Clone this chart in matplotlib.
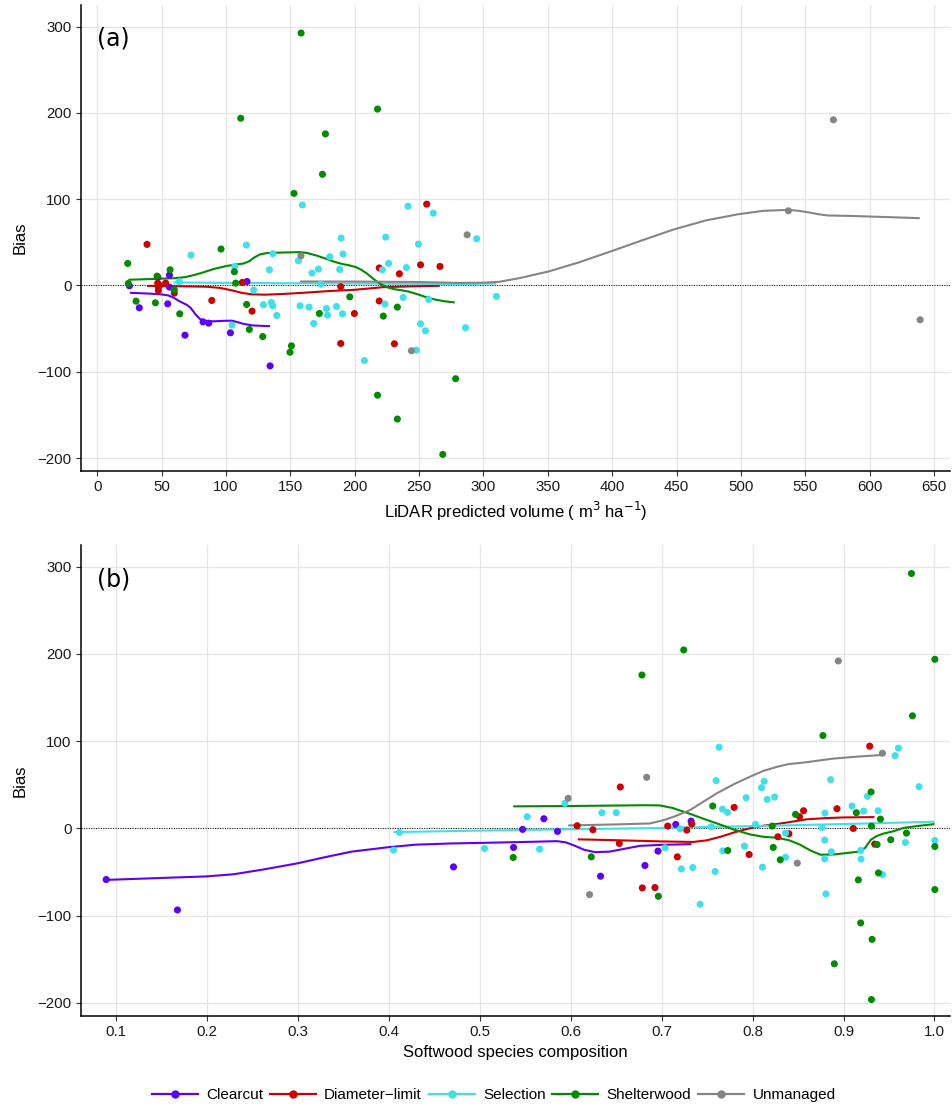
"""
bias_panels.py — stand-level bias of LiDAR volume by treatment

Two stacked panels: bias vs LiDAR predicted volume (a) and bias vs softwood
species composition (b). Points are individual stands, lines are the smoothed
trend per treatment.
"""

import matplotlib
matplotlib.use("Agg")
import matplotlib.pyplot as plt
from matplotlib.lines import Line2D


# ─── DATA ─────────────────────────────────────────────────────────────────────

GROUPS = ["Clearcut", "Diameter\u2212limit", "Selection", "Shelterwood", "Unmanaged"]
COLORS = ["#5D00F5", "#CC0000", "#3EE0EC", "#008B00", "#858585"]

# (a) volume (m3/ha), bias
VOL_CLEARCUT = [(24.9, -0.4), (32.6, -25.9), (46.9, 9.7), (56.0, 12.0), (56.0, -1.9),
                (54.7, -21.3), (68.1, -57.6), (82.1, -42.2), (86.5, -43.7),
                (103.4, -54.9), (116.3, 4.6), (134.2, -93.2)]
VOL_DIAMETER = [(38.6, 47.6), (46.9, 2.7), (47.4, -1.9), (47.4, -5.8), (48.5, 0.0),
                (53.1, 2.7), (59.8, -8.9), (88.9, -17.4), (112.7, 3.5), (120.2, -29.8),
                (189.1, -1.5), (189.1, -67.3), (199.7, -32.5), (219.0, 20.3),
                (219.0, -18.0), (230.8, -67.6), (234.7, 13.5), (251.1, 23.9),
                (255.9, 94.2), (266.2, 22.0)]
VOL_SELECTION = [(63.7, 4.3), (72.8, 35.2), (104.7, -46.0), (106.7, 22.0), (115.8, 46.8),
                 (121.5, -5.4), (129.0, -22.4), (133.7, 18.2), (135.2, -19.7),
                 (136.3, -23.6), (136.3, 36.8), (139.4, -34.8), (156.2, 28.6),
                 (159.3, 93.2), (157.5, -23.6), (164.5, -25.1), (166.8, 14.3),
                 (168.1, -44.1), (171.8, 19.0), (173.8, 1.5), (178.0, -26.7),
                 (178.8, -34.4), (180.6, 33.3), (185.8, -24.4), (188.3, 18.6),
                 (189.4, 54.9), (190.5, -32.9), (190.9, 36.4), (207.5, -87.0),
                 (221.5, 18.1), (223.4, -21.6), (224.1, 56.0), (226.3, 25.5),
                 (237.6, -13.9), (240.1, 20.8), (241.4, 91.9), (247.8, -74.9),
                 (249.5, 47.9), (251.1, -44.4), (254.9, -52.5), (257.5, -16.2),
                 (261.0, 83.8), (286.1, -49.0), (294.7, 54.1), (310.1, -12.7)]
VOL_SHELTERWOOD = [(158.3, 292.5), (111.4, 193.8), (177.2, 175.6), (174.9, 128.8),
                   (152.8, 106.7), (23.6, 25.5), (96.1, 42.2), (56.5, 18.2), (46.4, 10.8),
                   (106.5, 15.9), (107.5, 2.7), (24.1, 2.3), (30.1, -18.2), (45.1, -20.1),
                   (59.8, -5.0), (64.0, -32.9), (116.0, -22.0), (118.1, -51.0),
                   (128.5, -59.2), (150.8, -70.0), (149.7, -77.4), (172.5, -32.5),
                   (196.1, -13.2), (217.7, 204.4), (217.7, -127.2), (222.2, -35.5),
                   (233.1, -25.1), (278.4, -108.1), (233.1, -154.8), (268.4, -195.8)]
VOL_UNMANAGED = [(158.2, 34.4), (287.3, 58.7), (244.0, -75.7), (536.9, 86.5),
                 (571.9, 191.9), (639.3, -39.8)]

# (a) smoothed trends
FIT_VOL_CLEARCUT = [(25.4, -8.5), (40.0, -9.4), (50.0, -10.4), (55.0, -11.5),
                    (59.0, -14.0), (64.2, -18.6), (69.4, -22.4), (72.5, -26.0),
                    (76.0, -33.0), (79.8, -39.0), (84.0, -41.0), (90.2, -41.6),
                    (98.0, -41.0), (104.4, -40.8), (109.0, -42.5), (113.5, -44.5),
                    (121.2, -46.4), (134.2, -47.2)]
FIT_VOL_DIAMETER = [(38.6, -0.5), (60.0, -0.8), (85.0, -1.5), (95.0, -2.8),
                    (104.0, -5.5), (112.0, -8.5), (120.0, -10.3), (130.0, -10.7),
                    (145.0, -9.8), (160.0, -8.5), (180.0, -6.5), (200.0, -5.0),
                    (222.0, -2.0), (245.0, -1.0), (266.0, -0.4)]
FIT_VOL_SELECTION = [(59.0, 3.5), (100.0, 3.0), (150.0, 2.6), (200.0, 2.2),
                     (250.0, 1.8), (280.0, 1.6), (310.0, 2.3)]
FIT_VOL_SHELTERWOOD = [(24.1, 6.6), (45.0, 7.6), (60.0, 8.4), (68.0, 9.6),
                       (75.0, 12.0), (82.0, 15.0), (90.2, 19.0), (100.5, 22.6),
                       (108.0, 24.3), (113.5, 25.4), (118.0, 28.0), (122.0, 32.5),
                       (126.4, 36.0), (132.0, 37.6), (145.0, 38.2), (157.9, 38.6),
                       (163.0, 37.6), (170.0, 34.8), (177.2, 31.2), (184.0, 27.5),
                       (189.9, 25.0), (196.0, 23.2), (201.0, 21.2), (205.0, 18.2),
                       (209.3, 14.0), (215.0, 7.0), (220.5, 1.2), (225.0, -2.0),
                       (230.2, -4.2), (236.0, -5.5), (241.4, -7.0), (248.0, -9.8),
                       (254.3, -13.0), (262.0, -16.2), (270.0, -18.4), (277.7, -19.7)]
FIT_VOL_UNMANAGED = [(157.5, 4.6), (200.0, 4.5), (250.0, 4.0), (280.0, 3.0),
                     (300.0, 3.2), (312.0, 4.2), (328.0, 8.5), (350.6, 16.2),
                     (374.7, 27.0), (398.8, 39.4), (422.9, 52.1), (447.0, 64.5),
                     (472.6, 75.3), (498.3, 82.6), (517.6, 86.5), (536.9, 87.6),
                     (545.0, 86.5), (553.0, 84.6), (560.0, 82.6), (567.4, 81.1),
                     (585.0, 80.6), (607.5, 79.5), (639.0, 78.0)]

# (b) softwood composition, bias
COMP_CLEARCUT = [(0.0897, -58.6), (0.168, -93.5), (0.4714, -44.1), (0.5374, -21.8),
                 (0.5473, -1.1), (0.5707, 11.1), (0.5857, -3.4), (0.633, -54.8),
                 (0.6818, -42.5), (0.6961, -26.0), (0.7156, 4.6), (0.7325, 8.4)]
COMP_DIAMETER = [(0.9288, 94.3), (0.6547, 47.5), (0.7798, 24.1), (0.8561, 20.3),
                 (0.8928, 22.6), (0.8517, 13.4), (0.6073, 3.1), (0.6246, -1.5),
                 (0.7068, 2.7), (0.7277, -1.9), (0.7332, 5.0), (0.8279, -9.6),
                 (0.84, -6.1), (0.9108, 0.0), (0.9343, -18.0), (0.6536, -17.2),
                 (0.7174, -32.6), (0.7963, -29.9), (0.6789, -68.2), (0.6928, -67.8)]
COMP_SELECTION = [(0.7633, 93.1), (0.9604, 92.0), (0.9567, 83.5), (0.76, 54.8),
                  (0.8859, 55.9), (0.8128, 54.0), (0.8099, 46.7), (0.9831, 47.9),
                  (0.793, 35.2), (0.8161, 33.3), (0.8242, 36.0), (0.9264, 36.8),
                  (0.5938, 28.7), (0.6345, 18.0), (0.6503, 18.0), (0.767, 22.2),
                  (0.7725, 18.4), (0.8796, 17.6), (0.9094, 25.7), (0.9222, 19.9),
                  (0.938, 20.3), (0.5524, 13.4), (0.8033, 4.6), (0.7545, 1.9),
                  (0.7204, -0.4), (0.8763, 1.1), (0.412, -4.6), (0.8363, -5.4),
                  (1.0004, -13.8), (0.7912, -20.3), (0.968, -16.1), (0.7039, -22.2),
                  (0.7673, -25.7), (0.8866, -26.8), (0.8793, -13.4), (0.9189, -25.3),
                  (0.4055, -24.9), (0.5055, -23.0), (0.566, -23.8), (0.8363, -33.0),
                  (0.8793, -34.9), (0.9193, -35.2), (0.811, -44.4), (0.7218, -46.4),
                  (0.7343, -44.8), (0.7589, -49.4), (0.9428, -52.9), (0.8807, -75.1),
                  (0.7424, -87.0)]
COMP_SHELTERWOOD = [(0.9747, 292.3), (0.7244, 204.6), (0.6785, 175.9), (1.0004, 193.9),
                    (0.9758, 129.1), (0.8774, 106.5), (0.9303, 41.8), (0.7563, 25.7),
                    (0.8473, 16.1), (0.9141, 18.0), (0.9406, 10.7), (0.8217, 2.7),
                    (0.9307, 2.7), (0.9692, -5.4), (0.9519, -13.0), (0.9369, -18.4),
                    (1.0004, -20.7), (0.7728, -25.3), (0.8228, -21.8), (0.8305, -36.0),
                    (0.6228, -32.6), (0.537, -33.3), (0.6965, -77.8), (0.9163, -59.0),
                    (0.9384, -51.0), (1.0004, -70.1), (0.9189, -108.4), (0.9314, -127.2),
                    (0.8899, -155.2), (0.9307, -196.2)]
COMP_UNMANAGED = [(0.5974, 34.5), (0.6837, 58.6), (0.8943, 192.0), (0.9428, 86.2),
                  (0.8492, -39.8), (0.6209, -75.9)]

# (b) smoothed trends
FIT_COMP_CLEARCUT = [(0.09, -59.0), (0.15, -56.8), (0.2, -55.0), (0.23, -52.5),
                     (0.26, -47.5), (0.3, -40.0), (0.33, -33.0), (0.36, -26.5),
                     (0.4, -21.5), (0.43, -18.6), (0.47, -17.2), (0.5, -16.6),
                     (0.55, -15.5), (0.585, -14.6), (0.595, -16.0), (0.605, -20.0),
                     (0.615, -24.5), (0.627, -27.2), (0.643, -26.6), (0.66, -23.2),
                     (0.676, -20.0), (0.7, -18.8), (0.733, -18.0)]
FIT_COMP_DIAMETER = [(0.608, -12.5), (0.65, -13.5), (0.70, -14.9), (0.735, -15.5),
                     (0.75, -13.6), (0.765, -9.5), (0.78, -4.5), (0.80, 1.0),
                     (0.815, 3.6), (0.83, 5.5), (0.845, 8.0), (0.86, 10.5),
                     (0.88, 11.8), (0.90, 12.6), (0.934, 13.0)]
FIT_COMP_SELECTION = [(0.4055, -4.2), (0.5, -2.5), (0.6, -1.0), (0.7, 0.5),
                      (0.8, 2.7), (0.9, 5.0), (1.0, 7.7)]
FIT_COMP_SHELTERWOOD = [(0.537, 25.3), (0.6, 25.7), (0.68, 26.6), (0.698, 26.4),
                        (0.712, 23.5), (0.73, 17.2), (0.745, 11.5), (0.761, 5.7),
                        (0.78, -1.5), (0.797, -6.8), (0.812, -9.6), (0.827, -10.7),
                        (0.84, -13.5), (0.852, -18.5), (0.864, -25.5), (0.875, -30.2),
                        (0.89, -29.8), (0.905, -28.0), (0.918, -26.5), (0.924, -22.0),
                        (0.93, -13.0), (0.937, -8.5), (0.944, -5.9), (0.955, -3.2),
                        (0.966, 0.6), (0.98, 2.6), (1.0, 5.0)]
FIT_COMP_UNMANAGED = [(0.5974, 3.4), (0.65, 4.6), (0.6873, 5.7), (0.702, 9.4),
                      (0.715, 14.0), (0.7314, 21.1), (0.745, 30.0), (0.7607, 40.2),
                      (0.78, 51.0), (0.7974, 59.4), (0.812, 66.0), (0.8268, 70.6),
                      (0.84, 73.8), (0.8561, 75.5), (0.8892, 80.1), (0.915, 82.3),
                      (0.9428, 84.3)]

VOL_POINTS = [VOL_CLEARCUT, VOL_DIAMETER, VOL_SELECTION, VOL_SHELTERWOOD, VOL_UNMANAGED]
VOL_FITS = [FIT_VOL_CLEARCUT, FIT_VOL_DIAMETER, FIT_VOL_SELECTION,
            FIT_VOL_SHELTERWOOD, FIT_VOL_UNMANAGED]
COMP_POINTS = [COMP_CLEARCUT, COMP_DIAMETER, COMP_SELECTION, COMP_SHELTERWOOD,
               COMP_UNMANAGED]
COMP_FITS = [FIT_COMP_CLEARCUT, FIT_COMP_DIAMETER, FIT_COMP_SELECTION,
             FIT_COMP_SHELTERWOOD, FIT_COMP_UNMANAGED]

VOL_TICKS = list(range(0, 651, 50))
COMP_TICKS = [0.1, 0.2, 0.3, 0.4, 0.5, 0.6, 0.7, 0.8, 0.9, 1.0]
BIAS_TICKS = [-200, -100, 0, 100, 200, 300]


# ─── STYLE ────────────────────────────────────────────────────────────────────

plt.rcParams["font.family"] = ["Liberation Sans", "DejaVu Sans"]
plt.rcParams["axes.unicode_minus"] = True


def style_axis(ax, xticks, xlim):
    ax.set_xlim(*xlim)
    ax.set_ylim(-215, 325)
    ax.set_xticks(xticks)
    ax.set_yticks(BIAS_TICKS)
    ax.grid(True, color="#E6E6E6", lw=0.9)
    ax.set_axisbelow(True)
    for side in ("top", "right"):
        ax.spines[side].set_visible(False)
    for side in ("left", "bottom"):
        ax.spines[side].set_linewidth(1.1)
        ax.spines[side].set_color("black")
    ax.tick_params(direction="out", length=3.6, width=0.8, color="#333333",
                   labelsize=10.8, labelcolor="#1a1a1a", pad=3.2)
    ax.axhline(0, color="black", ls=(0, (1, 1.5)), lw=0.7, zorder=1)
    ax.set_ylabel("Bias", fontsize=12, labelpad=7)


def draw_panel(ax, points, fits):
    for pts, fit, color in zip(points, fits, COLORS):
        fx, fy = zip(*fit)
        ax.plot(fx, fy, color=color, lw=1.5, zorder=2, solid_capstyle="butt",
                solid_joinstyle="round")
        px, py = zip(*pts)
        ax.scatter(px, py, s=26, color=color, edgecolors="none", zorder=3)


# ─── FIGURE ───────────────────────────────────────────────────────────────────

fig = plt.figure(figsize=(9.53, 11.09), dpi=100)
ax_a = fig.add_axes([0.085, 0.5753, 0.912, 0.4202])
ax_b = fig.add_axes([0.085, 0.0839, 0.912, 0.4247])

draw_panel(ax_a, VOL_POINTS, VOL_FITS)
style_axis(ax_a, VOL_TICKS, (-12.7, 662.6))
ax_a.set_xlabel("LiDAR predicted volume ( m$^3$ ha$^{-1}$)", fontsize=12, labelpad=4)
ax_a.text(0.018, 0.929, "(a)", transform=ax_a.transAxes, fontsize=17,
          family="DejaVu Sans", va="center", ha="left")

draw_panel(ax_b, COMP_POINTS, COMP_FITS)
style_axis(ax_b, COMP_TICKS, (0.062, 1.0172))
ax_b.set_xticklabels([f"{t:.1f}" for t in COMP_TICKS])
ax_b.set_xlabel("Softwood species composition", fontsize=12, labelpad=4)
ax_b.text(0.018, 0.926, "(b)", transform=ax_b.transAxes, fontsize=17,
          family="DejaVu Sans", va="center", ha="left")

handles = [Line2D([], [], color=c, lw=1.6, marker="o", ms=5, mec=c)
           for c in COLORS]
fig.legend(handles, GROUPS, loc="center", bbox_to_anchor=(0.518, 0.0125), ncol=5,
           frameon=False, fontsize=11, handlelength=3.0, handletextpad=0.55,
           columnspacing=0.45)

fig.savefig("out.png", dpi=100)
plt.close(fig)
print("Saved: out.png")
